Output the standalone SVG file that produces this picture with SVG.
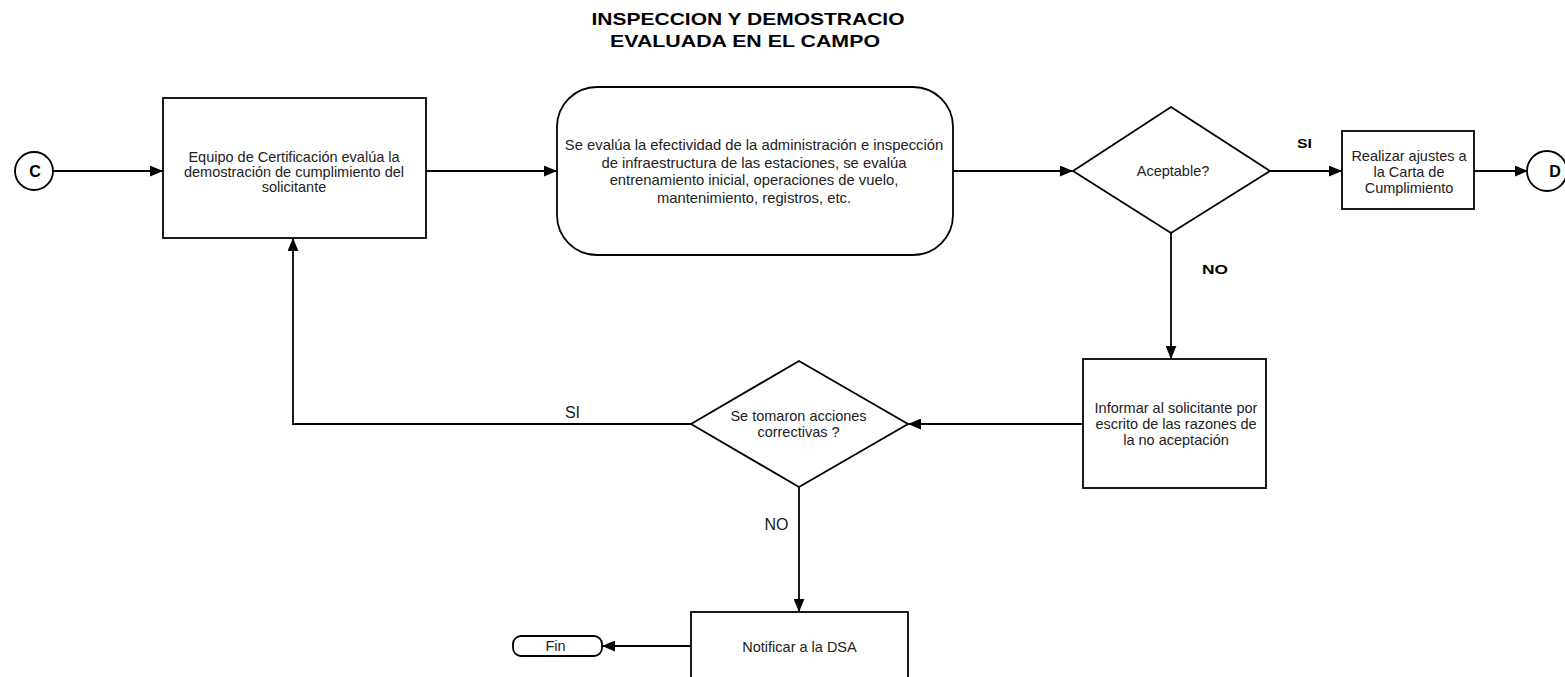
<svg xmlns="http://www.w3.org/2000/svg" width="1565" height="677" viewBox="0 0 1565 677">
<style>
.s{fill:#fff;stroke:#000;stroke-width:1.8}
.c{fill:none;stroke:#000;stroke-width:1.8}
.t{font-family:"Liberation Sans",Arial,sans-serif;font-size:14.5px;fill:#222;text-anchor:middle}
.b{font-family:"Liberation Sans",Arial,sans-serif;font-weight:bold;fill:#000;text-anchor:middle}
.m{font-size:14.8px}
</style>
<defs>
<marker id="a" viewBox="0 0 12 10" refX="12" refY="5" markerWidth="13" markerHeight="11" markerUnits="userSpaceOnUse" orient="auto">
<path d="M0,0 L12,5 L0,10 Z" fill="#000"/>
</marker>
</defs>
<rect width="1565" height="677" fill="#fff"/>
<g id="title">
<text class="b" x="748" y="25" font-size="16.5" textLength="313" lengthAdjust="spacingAndGlyphs">INSPECCION Y DEMOSTRACIO</text>
<text class="b" x="745" y="47" font-size="16.5" textLength="270" lengthAdjust="spacingAndGlyphs">EVALUADA EN EL CAMPO</text>
</g>
<g id="connectors">
<line class="c" x1="53" y1="171" x2="163" y2="171" marker-end="url(#a)"/>
<line class="c" x1="426" y1="171" x2="557" y2="171" marker-end="url(#a)"/>
<line class="c" x1="953" y1="171" x2="1073" y2="171" marker-end="url(#a)"/>
<line class="c" x1="1270" y1="171" x2="1342" y2="171" marker-end="url(#a)"/>
<line class="c" x1="1474" y1="171" x2="1528" y2="171" marker-end="url(#a)"/>
<line class="c" x1="1171" y1="233" x2="1171" y2="359" marker-end="url(#a)"/>
<line class="c" x1="1083" y1="424" x2="908" y2="424" marker-end="url(#a)"/>
<polyline class="c" points="691,424 293,424 293,238" marker-end="url(#a)"/>
<line class="c" x1="799" y1="487" x2="799" y2="612" marker-end="url(#a)"/>
<line class="c" x1="691" y1="646" x2="602" y2="646" marker-end="url(#a)"/>
<text class="b" x="1304.5" y="148" font-size="13" textLength="15" lengthAdjust="spacingAndGlyphs">SI</text>
<text class="b" x="1215" y="274" font-size="13" textLength="26" lengthAdjust="spacingAndGlyphs">NO</text>
<text class="t" x="572.5" y="418" style="font-size:16px">SI</text>
<text class="t" x="776.5" y="530" style="font-size:16px">NO</text>
</g>
<g id="C">
<circle class="s" cx="34" cy="171" r="19"/>
<text class="b" x="35" y="177" font-size="16">C</text>
</g>
<g id="box1">
<rect class="s" x="163" y="98" width="263" height="140"/>
<text class="t" x="294" y="162">Equipo de Certificación evalúa la</text>
<text class="t" x="294" y="177">demostración de cumplimiento del</text>
<text class="t" x="294" y="192">solicitante</text>
</g>
<g id="box2">
<rect class="s" x="557" y="87" width="396" height="168" rx="40" ry="40"/>
<text class="t m" x="754" y="150">Se evalúa la efectividad de la administración e inspección</text>
<text class="t m" x="754" y="167.5">de infraestructura de las estaciones, se evalúa</text>
<text class="t m" x="754" y="185">entrenamiento inicial, operaciones de vuelo,</text>
<text class="t m" x="754" y="203">mantenimiento, registros, etc.</text>
</g>
<g id="aceptable">
<polygon class="s" points="1171,107 1270,171 1171,233 1073,171"/>
<text class="t" x="1173" y="176">Aceptable?</text>
</g>
<g id="realizar">
<rect class="s" x="1342" y="131" width="132" height="78"/>
<text class="t" x="1409" y="161">Realizar ajustes a</text>
<text class="t" x="1409" y="177">la Carta de</text>
<text class="t" x="1409" y="193">Cumplimiento</text>
</g>
<g id="D">
<circle class="s" cx="1547" cy="171" r="20"/>
<text class="b" x="1555" y="177" font-size="16">D</text>
</g>
<g id="informar">
<rect class="s" x="1083" y="359" width="183" height="129"/>
<text class="t" x="1176" y="413">Informar al solicitante por</text>
<text class="t" x="1176" y="429">escrito de las razones de</text>
<text class="t" x="1176" y="445">la no aceptación</text>
</g>
<g id="correctivas">
<polygon class="s" points="799,361 908,424 799,487 691,424"/>
<text class="t" x="798.5" y="421">Se tomaron acciones</text>
<text class="t" x="798.5" y="437">correctivas ?</text>
</g>
<g id="notificar">
<rect class="s" x="691" y="612" width="217" height="66"/>
<text class="t" x="799.5" y="652">Notificar a la DSA</text>
</g>
<g id="fin">
<rect class="s" x="513" y="636" width="89" height="20" rx="8" ry="8"/>
<text class="t" x="555.5" y="651">Fin</text>
</g>
</svg>
